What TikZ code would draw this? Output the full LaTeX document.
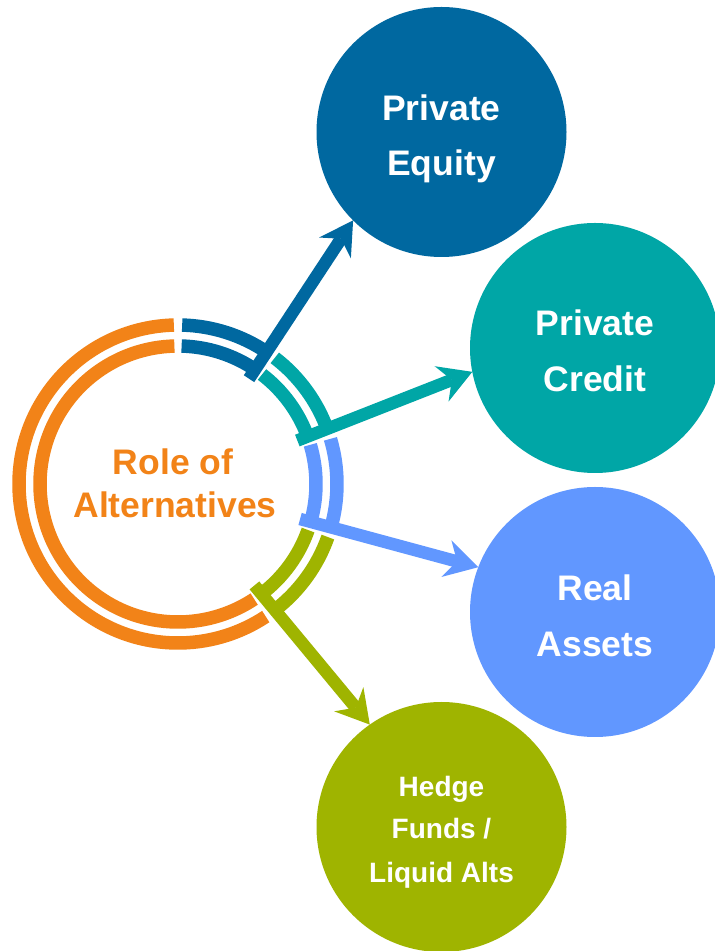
\documentclass[tikz,border=0pt]{standalone}
\usepackage{fontspec}
\setmainfont{Liberation Sans}
\usetikzlibrary{arrows.meta,calc}
\definecolor{cPE}{RGB}{0,104,160}
\definecolor{cPC}{RGB}{0,166,166}
\definecolor{cRA}{RGB}{97,151,255}
\definecolor{cHF}{RGB}{159,180,0}
\definecolor{cOr}{RGB}{242,131,24}
\begin{document}
\begin{tikzpicture}[x=1pt,y=1pt,
  bubble/.style={circle,minimum size=250pt,inner sep=0pt,outer sep=0pt,draw=none},
  ringarc/.style={line width=13.5pt},
  arr/.style={line width=12.5pt,-{Stealth[length=33pt,width=38pt,inset=11pt,line width=0pt]}},
  lbl/.style={text=white,font=\bfseries\fontsize{35.5}{40}\selectfont,anchor=base,inner sep=0pt},
  slbl/.style={text=white,font=\bfseries\fontsize{28}{32}\selectfont,anchor=base,inner sep=0pt},
  olbl/.style={text=cOr,font=\bfseries\fontsize{35.5}{40}\selectfont,anchor=base,inner sep=0pt}
]
\path[fill=white,use as bounding box] (0,0) rectangle (715,951);
\coordinate (ring) at (178,467);

% bubbles
\node[bubble,fill=cPE] (pe) at (441.5,819) {};
\node[bubble,fill=cPC] (pc) at (595,603) {};
\node[bubble,fill=cRA] (ra) at (595,339) {};
\node[bubble,fill=cHF] (hf) at (441.5,124) {};

% double ring arcs
\foreach \r in {159,138}{
  \draw[ringarc,cOr] ($(ring)+(91.5:\r)$) arc[start angle=91.5,end angle=303.5,radius=\r];
  \draw[ringarc,cPE] ($(ring)+(88.5:\r)$) arc[start angle=88.5,end angle=56,radius=\r];
  \draw[ringarc,cPC] ($(ring)+(52.5:\r)$) arc[start angle=52.5,end angle=20,radius=\r];
  \draw[ringarc,cRA] ($(ring)+(16.5:\r)$) arc[start angle=16.5,end angle=-16,radius=\r];
  \draw[ringarc,cHF] ($(ring)+(-19.5:\r)$) arc[start angle=-19.5,end angle=-53,radius=\r];
}

% arrow starts
\coordinate (s1) at ($(ring)+(56:127)$);
\coordinate (s2) at ($(ring)+(20:127)$);
\coordinate (s3) at ($(ring)+(-16:127)$);
\coordinate (s4) at ($(ring)+(-53:127)$);

\draw[arr,cPE] (s1) -- (pe.225);
\draw[arr,cPC] (s2) -- (pc.191);
\draw[arr,cRA] (s3) -- (ra.159);
\draw[arr,cHF] (s4) -- (hf.125);

% labels
\node[lbl] (pe1) at (441.5,830) {Private};
\node[lbl] (pe2) at (441.5,775) {Equity};
\node[lbl] (pc1) at (595,615) {Private};
\node[lbl] (pc2) at (595,559) {Credit};
\node[lbl] (ra1) at (595,350) {Real};
\node[lbl] (ra2) at (595,294) {Assets};
\node[slbl] (hf1) at (441.5,154) {Hedge};
\node[slbl] (hf2) at (441.5,112) {Funds /};
\node[slbl] (hf3) at (441.5,68) {Liquid Alts};
\node[olbl] (ro1) at (173,476) {Role of};
\node[olbl] (ro2) at (175,433) {Alternatives};
\end{tikzpicture}
\end{document}
